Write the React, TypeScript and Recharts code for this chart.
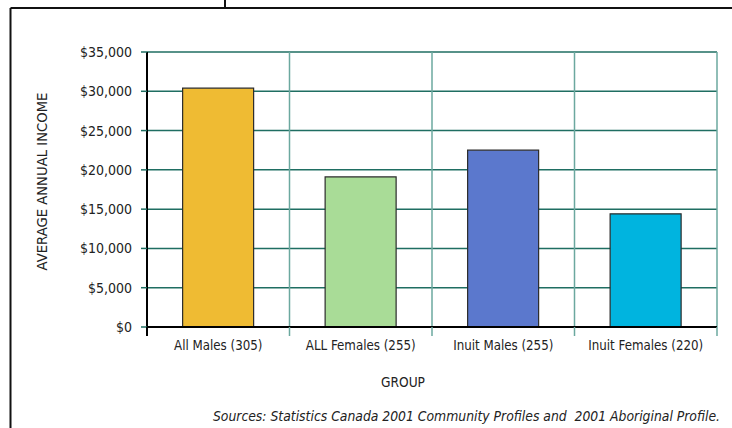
import { BarChart, Bar, XAxis, YAxis, CartesianGrid, Cell } from 'recharts';

const categories = ['All Males (305)', 'ALL Females (255)', 'Inuit Males (255)', 'Inuit Females (220)'];
const incomes = [30400, 19100, 22500, 14400];
const barColors = ['#EFBB33', '#A9DC97', '#5B78CD', '#00B4DF'];
const incomeTicks = [0, 5000, 10000, 15000, 20000, 25000, 30000, 35000];

const WIDTH = 732;
const HEIGHT = 428;
const MARGIN = { top: 52, right: 15, bottom: 0, left: 0 };
const Y_AXIS_W = 147;
const X_AXIS_H = 101;
const PLOT_W = WIDTH - MARGIN.right - Y_AXIS_W;
const HALF_BAND = PLOT_W / categories.length / 2;

const FONT = "'DejaVu Sans Condensed', 'DejaVu Sans', sans-serif";
const H_GRID = '#1f6e62';
const V_GRID = '#6ba89f';
const TEXT = '#222';

const data = categories.map((group, i) => ({ group, income: incomes[i] }));

const money = (v: number) => `$${v.toLocaleString('en-US')}`;

// grid lines sit on the category boundaries, not the band centres
const boundaries = ({ offset }: any) =>
  categories.map((_, i) => offset.left + ((i + 1) * offset.width) / categories.length);

// category label plus the boundary tick marks hanging under the axis
const GroupTick = (props: any) => {
  const { x, y, payload, index } = props;
  const last = index === categories.length - 1;
  return (
    <g>
      <line x1={x - HALF_BAND} x2={x - HALF_BAND} y1={y} y2={y + 9} stroke={index === 0 ? '#000' : V_GRID} strokeWidth={index === 0 ? 2 : 1.5} />
      {last && <line x1={x + HALF_BAND} x2={x + HALF_BAND} y1={y} y2={y + 9} stroke={V_GRID} strokeWidth={1.5} />}
      <text x={x} y={y + 23} textAnchor="middle" fontSize={13.2} fill={TEXT} fontFamily={FONT} style={{ fontStretch: 'condensed' }}>
        {payload.value}
      </text>
    </g>
  );
};

export default function App() {
  return (
    <div style={{ position: 'absolute', left: 0, top: 0, width: WIDTH, height: HEIGHT, background: '#fff' }}>
      <BarChart width={WIDTH} height={HEIGHT} data={data} margin={MARGIN} barCategoryGap="25%">
        <CartesianGrid stroke={H_GRID} strokeWidth={1.5} vertical={false} />
        <CartesianGrid stroke={V_GRID} strokeWidth={1.5} horizontal={false} verticalCoordinatesGenerator={boundaries} />
        <XAxis
          dataKey="group"
          height={X_AXIS_H}
          axisLine={{ stroke: '#000', strokeWidth: 2 }}
          tickLine={false}
          tickSize={0}
          tickMargin={0}
          interval={0}
          tick={<GroupTick />}
        />
        <YAxis
          width={Y_AXIS_W}
          domain={[0, 35000]}
          ticks={incomeTicks}
          tickFormatter={money}
          axisLine={{ stroke: '#000', strokeWidth: 2 }}
          tickLine={{ stroke: H_GRID, strokeWidth: 1.5 }}
          tickSize={6}
          tickMargin={9}
          tick={{ fontSize: 14, fill: TEXT, fontFamily: FONT, style: { fontStretch: 'condensed' } }}
        />
        <Bar dataKey="income" stroke="#2b2b2b" strokeWidth={1.2} isAnimationActive={false}>
          {data.map((d, i) => (
            <Cell key={d.group} fill={barColors[i]} />
          ))}
        </Bar>
      </BarChart>

      <svg
        width={WIDTH}
        height={HEIGHT}
        style={{ position: 'absolute', left: 0, top: 0, pointerEvents: 'none' }}
        fontFamily={FONT}
      >
        {/* outer frame */}
        <line x1={10.5} x2={WIDTH} y1={8} y2={8} stroke="#111" strokeWidth={2} />
        <line x1={225} x2={225} y1={0} y2={8} stroke="#111" strokeWidth={2} />
        <line x1={10.5} x2={10.5} y1={8} y2={HEIGHT} stroke="#111" strokeWidth={2} />

        <text
          x={41}
          y={181.5}
          transform="rotate(-90 41 181.5)"
          textAnchor="middle"
          dominantBaseline="central"
          fontSize={14.7}
          fill={TEXT}
          style={{ fontStretch: 'condensed' }}
        >
          AVERAGE ANNUAL INCOME
        </text>
        <text x={403} y={387} textAnchor="middle" fontSize={13.6} fill={TEXT} style={{ fontStretch: 'condensed' }}>
          GROUP
        </text>
        <text
          x={720}
          y={421}
          textAnchor="end"
          fontSize={13.8}
          fontStyle="italic"
          fill={TEXT}
          style={{ fontStretch: 'condensed', whiteSpace: 'pre' }}
        >
          Sources: Statistics Canada 2001 Community Profiles and  2001 Aboriginal Profile.
        </text>
      </svg>
    </div>
  );
}
